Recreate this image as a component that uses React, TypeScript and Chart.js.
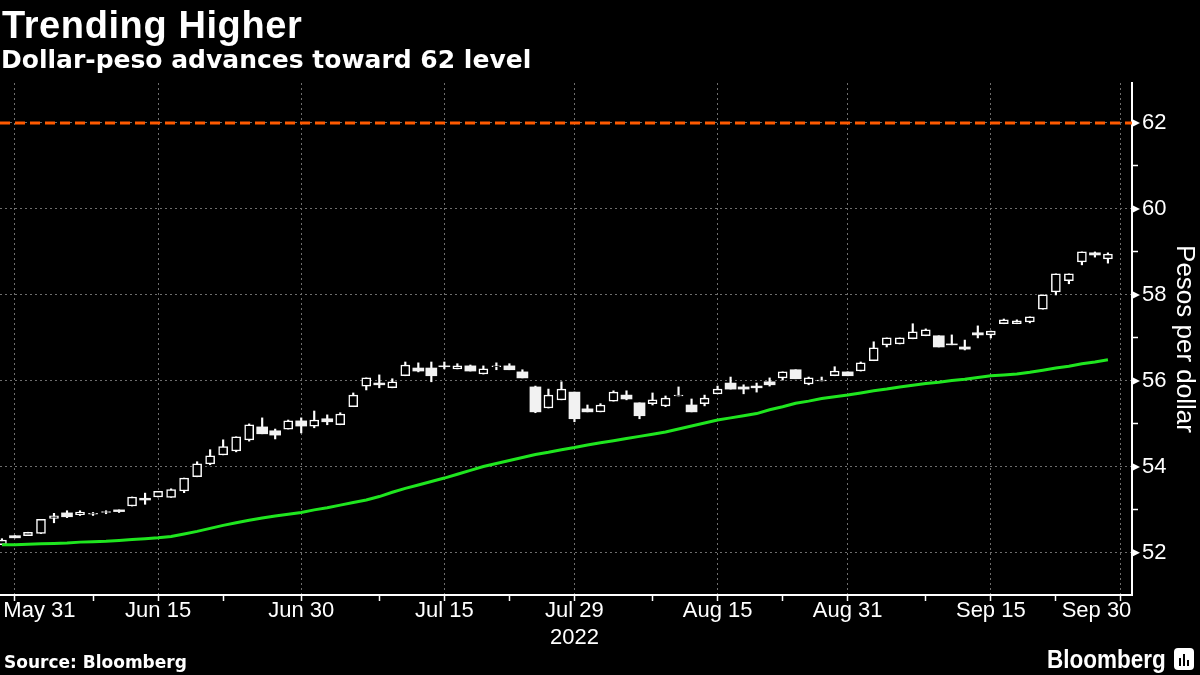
import React, { useEffect, useRef } from "react";
import { Chart, registerables } from "chart.js";

Chart.register(...registerables);

// Daily USD/PHP candles (trading-day index 0 = May 30, 2022)
const openVals = [
  52.19, 52.40, 52.40, 52.45, 52.80, 52.93, 52.89, 52.90, 52.94, 53.00,
  53.09, 53.27, 53.30, 53.29, 53.44, 53.77, 54.07, 54.28, 54.37, 54.63,
  54.93, 54.84, 54.88, 55.07, 54.95, 55.12, 54.98, 55.40, 55.88, 55.95,
  55.84, 56.12, 56.30, 56.30, 56.35, 56.28, 56.35, 56.16, 56.33, 56.35,
  56.21, 55.86, 55.37, 55.56, 55.74, 55.35, 55.28, 55.53, 55.67, 55.49,
  55.47, 55.42, 55.65, 55.44, 55.47, 55.70, 55.95, 55.86, 55.88, 55.98,
  56.07, 56.26, 55.93, 56.00, 56.12, 56.21, 56.23, 56.47, 56.84, 56.86,
  56.98, 57.05, 57.05, 56.86, 56.79, 57.12, 57.07, 57.33, 57.33, 57.37,
  57.67, 58.07, 58.33, 58.77, 58.98, 58.84,
];
const highVals = [
  52.33, 52.40, 52.48, 52.78, 52.92, 52.98, 52.98, 52.94, 52.98, 53.00,
  53.30, 53.39, 53.43, 53.49, 53.74, 54.12, 54.40, 54.63, 54.70, 55.00,
  55.14, 54.88, 55.09, 55.14, 55.30, 55.21, 55.26, 55.72, 56.07, 56.14,
  56.05, 56.44, 56.42, 56.44, 56.44, 56.40, 56.37, 56.35, 56.42, 56.40,
  56.26, 55.88, 55.81, 55.98, 55.74, 55.44, 55.47, 55.77, 55.77, 55.49,
  55.72, 55.65, 55.86, 55.58, 55.67, 55.88, 56.09, 55.91, 55.95, 56.07,
  56.21, 56.26, 56.09, 56.09, 56.33, 56.21, 56.44, 56.91, 57.00, 57.00,
  57.33, 57.21, 57.05, 57.07, 56.95, 57.28, 57.16, 57.44, 57.42, 57.49,
  58.00, 58.49, 58.49, 59.00, 59.00, 58.98,
];
const lowVals = [
  52.19, 52.35, 52.40, 52.45, 52.70, 52.82, 52.87, 52.87, 52.91, 52.94,
  53.09, 53.13, 53.30, 53.29, 53.40, 53.77, 54.05, 54.28, 54.35, 54.60,
  54.77, 54.65, 54.88, 54.79, 54.91, 54.98, 54.98, 55.40, 55.79, 55.84,
  55.84, 56.12, 56.21, 55.98, 56.28, 56.28, 56.23, 56.16, 56.26, 56.26,
  56.07, 55.26, 55.37, 55.56, 55.05, 55.28, 55.28, 55.53, 55.56, 55.12,
  55.44, 55.40, 55.65, 55.28, 55.42, 55.70, 55.81, 55.70, 55.74, 55.88,
  56.02, 56.05, 55.91, 56.00, 56.12, 56.12, 56.23, 56.47, 56.79, 56.86,
  56.98, 57.05, 56.79, 56.84, 56.72, 57.00, 57.00, 57.33, 57.33, 57.35,
  57.67, 58.00, 58.26, 58.70, 58.88, 58.74,
];
const closeVals = [
  52.30, 52.35, 52.48, 52.78, 52.86, 52.84, 52.95, 52.92, 52.96, 52.96,
  53.30, 53.23, 53.43, 53.47, 53.74, 54.07, 54.26, 54.47, 54.70, 54.98,
  54.77, 54.74, 55.07, 54.95, 55.09, 55.05, 55.23, 55.67, 56.07, 55.91,
  55.98, 56.37, 56.23, 56.12, 56.33, 56.35, 56.23, 56.28, 56.35, 56.26,
  56.07, 55.28, 55.67, 55.81, 55.12, 55.28, 55.44, 55.74, 55.58, 55.19,
  55.56, 55.60, 55.67, 55.28, 55.60, 55.81, 55.81, 55.81, 55.84, 55.91,
  56.21, 56.05, 56.07, 56.02, 56.23, 56.12, 56.42, 56.77, 57.00, 57.00,
  57.14, 57.19, 56.79, 56.84, 56.74, 57.07, 57.16, 57.42, 57.40, 57.49,
  58.00, 58.49, 58.49, 59.00, 58.93, 58.95,
];
// Moving average (green line)
const movingAvg = [
  52.19, 52.19, 52.20, 52.21, 52.22, 52.23, 52.25, 52.26, 52.27, 52.29,
  52.31, 52.33, 52.35, 52.38, 52.44, 52.50, 52.57, 52.64, 52.70, 52.76,
  52.81, 52.86, 52.90, 52.94, 53.00, 53.05, 53.11, 53.17, 53.23, 53.31,
  53.41, 53.50, 53.58, 53.66, 53.74, 53.83, 53.92, 54.01, 54.08, 54.15,
  54.22, 54.29, 54.34, 54.40, 54.45, 54.51, 54.56, 54.61, 54.66, 54.71,
  54.76, 54.81, 54.88, 54.95, 55.02, 55.09, 55.14, 55.19, 55.24, 55.33,
  55.40, 55.48, 55.53, 55.59, 55.63, 55.67, 55.72, 55.77, 55.81, 55.86,
  55.90, 55.94, 55.97, 56.01, 56.04, 56.08, 56.12, 56.14, 56.16, 56.20,
  56.25, 56.30, 56.34, 56.40, 56.44, 56.49,
];

const LEVEL = 62;
const xLabelIdx = [1, 12, 23, 34, 44, 55, 65, 76, 86];
const xLabelText = ["May 31", "Jun 15", "Jun 30", "Jul 15", "Jul 29", "Aug 15", "Aug 31", "Sep 15", "Sep 30"];
const yearLabel = "2022";
const xMinorIdx = [7, 17, 29, 39, 50, 60, 71, 81];
const yTickValues = [52, 53, 54, 55, 56, 57, 58, 59, 60, 61, 62];

const X_MIN = -0.15;
const X_MAX = 86.85;
const Y_MIN = 51.02;
const Y_MAX = 62.93;

const GRID = "#6e6e6e";
const CLEAR = "rgba(0,0,0,0)";

const majorMarkers = {
  id: "majorMarkers",
  afterDraw(chart: any) {
    const ys = chart.scales.y;
    const ctx = chart.ctx;
    const x0 = chart.chartArea.right;
    ctx.save();
    ctx.fillStyle = "#ffffff";
    yTickValues
      .filter((v) => v % 2 === 0)
      .forEach((v) => {
        const py = ys.getPixelForValue(v);
        ctx.beginPath();
        ctx.moveTo(x0, py - 4);
        ctx.lineTo(x0 + 8, py);
        ctx.lineTo(x0, py + 4);
        ctx.closePath();
        ctx.fill();
      });
    ctx.restore();
  },
};

function labelFor(v: number): string | string[] {
  const k = xLabelIdx.indexOf(v);
  if (k < 0) return "";
  const t = xLabelText[k];
  if (k === 0) return "        " + t;
  if (k === xLabelIdx.length - 1) return t + "        ";
  if (xLabelIdx[k] === 44) return [t, yearLabel];
  return t;
}

export default function App() {
  const canvasRef = useRef<HTMLCanvasElement | null>(null);

  useEffect(() => {
    document.body.style.margin = "0";
    document.body.style.background = "#000";
    const canvas = canvasRef.current;
    if (!canvas) return;

    const idx = openVals.map((_, i) => i);
    const upBodies = idx
      .filter((i) => closeVals[i] >= openVals[i])
      .map((i) => ({ x: i, y: [openVals[i], closeVals[i]] }));
    const downBodies = idx
      .filter((i) => closeVals[i] < openVals[i])
      .map((i) => ({ x: i, y: [closeVals[i], openVals[i]] }));
    const wicks = idx.map((i) => ({ x: i, y: [lowVals[i], highVals[i]] }));

    const chart = new Chart(canvas, {
      type: "bar",
      data: {
        datasets: [
          {
            type: "line",
            label: "62 level",
            data: [
              { x: X_MIN, y: LEVEL },
              { x: X_MAX, y: LEVEL },
            ],
            borderColor: "#ff5a00",
            borderWidth: 3,
            borderDash: [10, 5],
            pointRadius: 0,
            order: 0,
          } as any,
          {
            type: "line",
            label: "Moving average",
            data: movingAvg.map((v, i) => ({ x: i, y: v })),
            borderColor: "#1fe61f",
            borderWidth: 3,
            pointRadius: 0,
            tension: 0,
            order: 0,
          } as any,
          {
            type: "bar",
            label: "Up",
            data: upBodies,
            backgroundColor: "#000000",
            borderColor: "#ffffff",
            borderWidth: 1.5,
            borderSkipped: false,
            barThickness: 9,
            grouped: false,
            order: 1,
          } as any,
          {
            type: "bar",
            label: "Down",
            data: downBodies,
            backgroundColor: "#f2f2f2",
            borderWidth: 0,
            barThickness: 11,
            grouped: false,
            order: 1,
          } as any,
          {
            type: "bar",
            label: "Wick",
            data: wicks,
            backgroundColor: "#ffffff",
            borderWidth: 0,
            barThickness: 1.5,
            grouped: false,
            order: 2,
          } as any,
        ],
      },
      options: {
        responsive: false,
        maintainAspectRatio: false,
        animation: false,
        layout: { padding: { top: 83, left: 0, right: 0, bottom: 0 }, autoPadding: false },
        plugins: { legend: { display: false }, tooltip: { enabled: false } },
        scales: {
          x: {
            type: "linear",
            min: X_MIN,
            max: X_MAX,
            offset: false,
            afterBuildTicks: (s: any) => {
              s.ticks = [...xLabelIdx, ...xMinorIdx].sort((a, b) => a - b).map((v) => ({ value: v }));
            },
            afterFit: (s: any) => {
              s.height = 80;
              s.paddingLeft = 0;
              s.paddingRight = 0;
            },
            ticks: {
              autoSkip: false,
              maxRotation: 0,
              minRotation: 0,
              color: "#ffffff",
              font: { family: "Liberation Sans", size: 22 },
              padding: -3,
              callback: (v: any) => labelFor(Number(v)),
            },
            grid: {
              offset: false,
              color: (ctx: any) => (xLabelIdx.includes(ctx.tick?.value) ? GRID : CLEAR),
              lineWidth: 1,
              drawTicks: true,
              tickLength: 6,
              tickColor: "#ffffff",
              tickWidth: 1.5,
            },
            border: { display: true, color: "#ffffff", width: 2, dash: [2, 3] },
          } as any,
          y: {
            type: "linear",
            position: "right",
            min: Y_MIN,
            max: Y_MAX,
            afterBuildTicks: (s: any) => {
              s.ticks = yTickValues.map((v) => ({ value: v }));
            },
            afterFit: (s: any) => {
              s.width = 68;
              s.paddingTop = 0;
              s.paddingBottom = 0;
            },
            ticks: {
              color: "#ffffff",
              font: { family: "Liberation Sans", size: 22 },
              padding: 4,
              callback: (v: any) => (Number(v) % 2 === 0 ? String(v) : ""),
            },
            grid: {
              offset: false,
              color: (ctx: any) => (ctx.tick && ctx.tick.value % 2 === 0 ? GRID : CLEAR),
              lineWidth: 1,
              drawTicks: true,
              tickLength: 6,
              tickColor: (ctx: any) => (ctx.tick && ctx.tick.value % 2 === 0 ? CLEAR : "#ffffff"),
              tickWidth: 1.5,
            },
            border: { display: true, color: "#ffffff", width: 2, dash: [2, 3] },
            title: {
              display: true,
              text: "Pesos per dollar",
              color: "#ffffff",
              font: { family: "Liberation Sans", size: 26 },
              padding: 0,
            },
          } as any,
        },
      },
      plugins: [majorMarkers],
    });

    return () => chart.destroy();
  }, []);

  return (
    <div style={{ position: "relative", width: 1200, height: 675, background: "#000", overflow: "hidden" }}>
      <canvas ref={canvasRef} width={1200} height={675} style={{ display: "block", position: "absolute", left: 0, top: 0 }} />
      <div
        style={{
          position: "absolute", left: 2, top: 6, color: "#fff",
          font: "bold 38px 'Liberation Sans'", lineHeight: "38px", letterSpacing: "0.6px", whiteSpace: "nowrap",
        }}
      >
        Trending Higher
      </div>
      <div
        style={{
          position: "absolute", left: 1, top: 47, color: "#fff",
          font: "bold 25px 'DejaVu Sans'", lineHeight: "25px", whiteSpace: "nowrap",
        }}
      >
        Dollar-peso advances toward 62 level
      </div>
      <div
        style={{
          position: "absolute", left: 4, top: 654, color: "#fff",
          font: "bold 17px 'DejaVu Sans'", lineHeight: "17px", whiteSpace: "nowrap",
        }}
      >
        Source: Bloomberg
      </div>
      <div
        style={{
          position: "absolute", left: 1047, top: 647, color: "#fff",
          font: "bold 25px 'Liberation Sans'", lineHeight: "25px", whiteSpace: "nowrap",
          transform: "scaleX(0.9)", transformOrigin: "left top",
        }}
      >
        Bloomberg
      </div>
      <div
        style={{
          position: "absolute", left: 1174, top: 648, width: 20, height: 22,
          background: "#fff", borderRadius: 4,
        }}
      >
        <div style={{ position: "absolute", left: 5, top: 10, width: 2, height: 8, background: "#000" }} />
        <div style={{ position: "absolute", left: 9, top: 6, width: 2, height: 12, background: "#000" }} />
        <div style={{ position: "absolute", left: 13, top: 12, width: 2, height: 6, background: "#000" }} />
      </div>
    </div>
  );
}
